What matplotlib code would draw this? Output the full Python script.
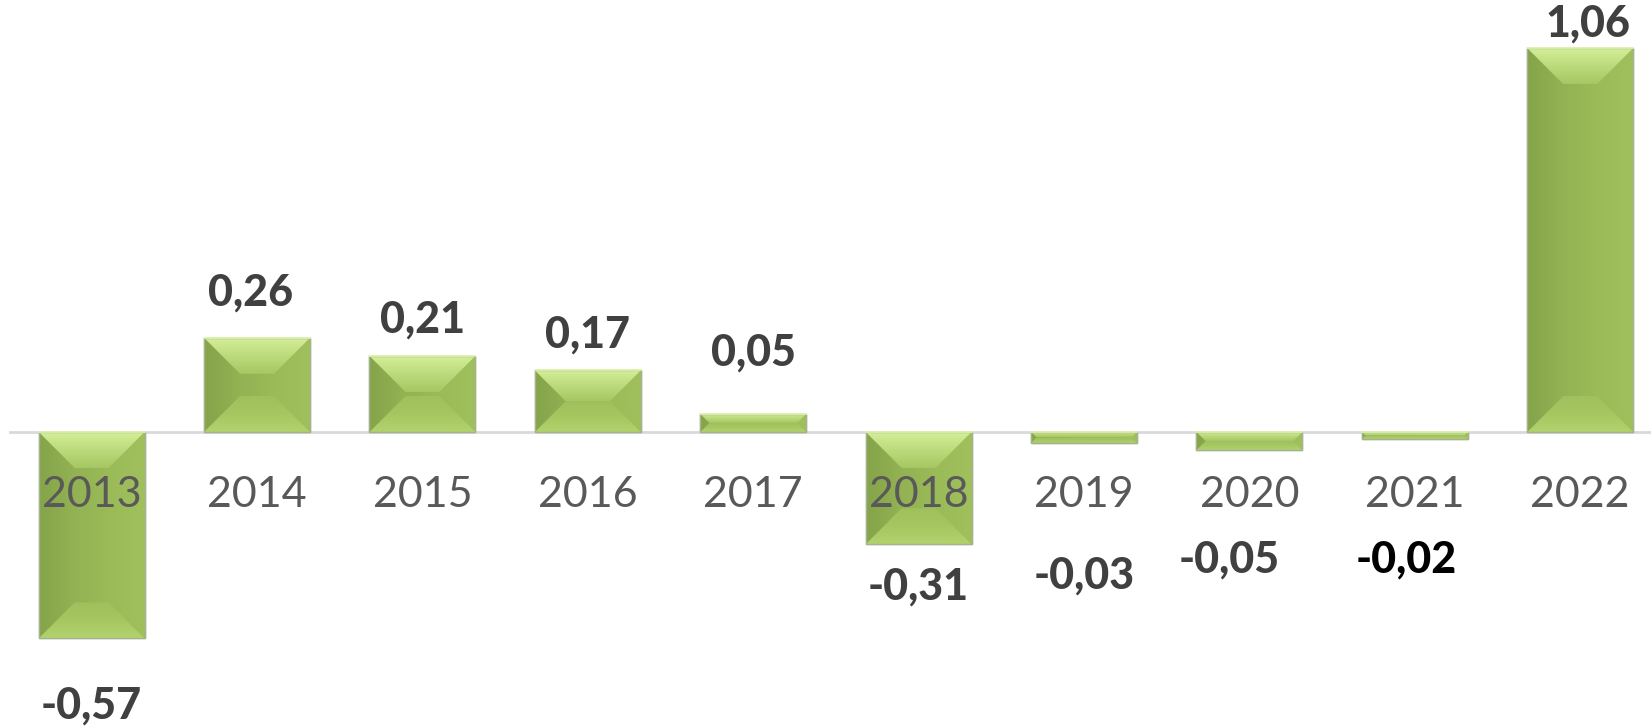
import matplotlib.pyplot as plt
import numpy as np
from matplotlib.patches import Polygon
from matplotlib.colors import LinearSegmentedColormap

years = ['2013', '2014', '2015', '2016', '2017', '2018', '2019', '2020', '2021', '2022']
values = [-0.57, 0.26, 0.21, 0.17, 0.05, -0.31, -0.03, -0.05, -0.02, 1.06]
labels = ['-0,57', '0,26', '0,21', '0,17', '0,05', '-0,31', '-0,03', '-0,05', '-0,02', '1,06']
# where the data labels sit (value units)
label_y = [-0.755, 0.385, 0.31, 0.268, 0.219, -0.428, -0.397, -0.353, -0.353, 1.128]
label_dx = [0, -0.04, 0, 0, 0, 0, 0, -0.12, -0.05, 0.05]
label_col = ['#404040'] * 8 + ['#000000', '#404040']

plt.rcParams['font.family'] = ['Lato', 'DejaVu Sans']

fig = plt.figure(figsize=(16.51, 7.26), dpi=100)
ax = fig.add_axes([0, 0, 1, 1])
ax.set_xlim(-0.554, 9.428)
ax.set_ylim(-0.812, 1.193)
ax.axis('off')

x = np.arange(len(years))
bars = ax.bar(x, values, width=0.64, color='#9bbb59', edgecolor='#a9b995', linewidth=1.0, zorder=2)

ax.axhline(0, xmin=10 / 1651, xmax=1, color='#d9d9d9', lw=2, zorder=1)

# bevel facets, computed from each bar's own geometry
fig.canvas.draw()
px_x = ax.transData.transform((1, 0))[0] - ax.transData.transform((0, 0))[0]
px_y = ax.transData.transform((0, 1))[1] - ax.transData.transform((0, 0))[1]
g = np.linspace(0, 1, 64)
body_cm = LinearSegmentedColormap.from_list('body', ['#86a44a', '#92b253', '#9bbb59', '#a0c05d'])
top_cm = LinearSegmentedColormap.from_list('top', ['#a6c763', '#bcda7c', '#d4ef98'])
bot_cm = LinearSegmentedColormap.from_list('bot', ['#a0c05d', '#a6c662', '#b2d26e'])


def fill(poly, cmap, ext, horiz):
    ax.add_patch(poly)
    arr = g.reshape(1, -1) if horiz else g.reshape(-1, 1)
    im = ax.imshow(arr, extent=ext, origin='lower', aspect='auto', cmap=cmap, zorder=2.1)
    im.set_clip_path(poly)


for b in bars:
    x0 = b.get_x()
    x1 = x0 + b.get_width()
    y0 = min(b.get_y(), b.get_y() + b.get_height())
    y1 = max(b.get_y(), b.get_y() + b.get_height())
    wpx = (x1 - x0) * px_x
    hpx = (y1 - y0) * px_y
    d = min(36, wpx / 2, hpx / 2)
    dx = d / px_x
    dy = d / px_y
    body = Polygon([(x0, y0), (x1, y0), (x1, y1), (x0, y1)], closed=True, fc='none', lw=0)
    fill(body, body_cm, (x0, x1, y0, y1), True)
    top = Polygon([(x0, y1), (x1, y1), (x1 - dx, y1 - dy), (x0 + dx, y1 - dy)], closed=True, fc='none', lw=0)
    fill(top, top_cm, (x0, x1, y1 - dy, y1), False)
    bot = Polygon([(x0, y0), (x1, y0), (x1 - dx, y0 + dy), (x0 + dx, y0 + dy)], closed=True, fc='none', lw=0)
    fill(bot, bot_cm.reversed(), (x0, x1, y0, y0 + dy), False)
    ax.add_patch(Polygon([(x0, y0), (x1, y0), (x1, y1), (x0, y1)], closed=True,
                         fc='none', ec='#a3b38f', lw=1.0, zorder=2.3))
    ax.plot([x0, x1], [y1, y1], color='#e0f5b0', lw=1.2, zorder=2.4)

for i, yr in enumerate(years):
    ax.text(x[i], -0.174, yr, ha='center', va='center', fontsize=31, color='#595959', zorder=3)
    ax.text(x[i] + label_dx[i], label_y[i], labels[i], ha='center', va='center',
            fontsize=31, fontweight='black', color=label_col[i], zorder=3)

plt.savefig('out.png', dpi=100)
